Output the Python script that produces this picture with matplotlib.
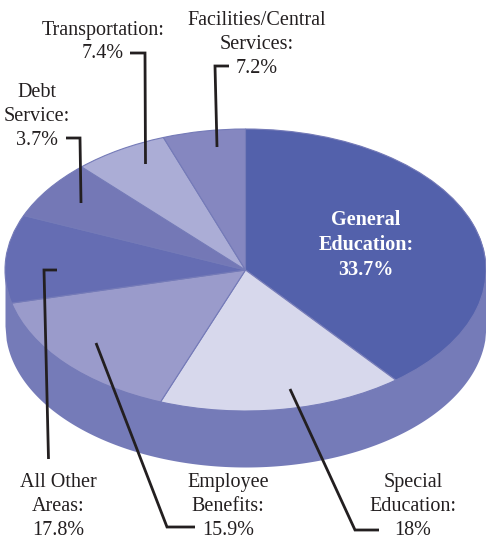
"""School budget pie, drawn as a tilted disc with a side wall."""
import matplotlib
matplotlib.use("Agg")
import matplotlib.pyplot as plt
import numpy as np

plt.rcParams["font.family"] = ["Liberation Serif", "DejaVu Serif"]

W, H = 486, 540

# slice sizes as drawn (percent of the circle), clockwise from 12 o'clock
categories = ["General Education", "Special Education", "Employee Benefits",
              "All Other Areas", "Debt Service", "Transportation",
              "Facilities/Central Services"]
drawn_share = [39.3, 16.5, 15.5, 10.1, 6.75, 6.4, 5.55]
slice_colors = ["#5361AB", "#D7D8EC", "#9A9BCB", "#656DB3",
                "#7478B6", "#ABADD6", "#8587C0"]

# printed labels
label_text = ["Facilities/Central\nServices:\n7.2%", "Transportation:\n7.4%",
              "Debt\nService:\n3.7%", "All Other\nAreas:\n17.8%",
              "Employee\nBenefits:\n15.9%", "Special\nEducation:\n18%"]
label_x = [257, 103, 37, 58, 228, 413]
label_y = [44.5, 42, 116.5, 506.5, 506.5, 506.5]

# leader lines, pixel coordinates from the top left
leaders = [
    ([229, 215, 217], [66, 66, 147]),
    ([130, 145, 145.5], [53, 53, 164]),
    ([66, 80, 81], [138, 138, 203]),
    ([57, 44, 48.5], [270, 270, 459]),
    ([96, 167, 195], [343, 527, 527]),
    ([290, 355, 379], [389, 530, 530]),
]

SIDE = "#757BB8"
INK = "#231F20"
CX, CY, RX, RY, DEPTH = 245.5, 270, 240.5, 141, 56

fig = plt.figure(figsize=(W / 100, H / 100), dpi=100)

# --- pie: the axes box is the bounding box of the ellipse ---
ax = fig.add_axes([(CX - RX) / W, 1 - (CY + RY) / H, 2 * RX / W, 2 * RY / H])
xs = np.linspace(-1, 1, 400)
ax.fill_between(xs, np.sqrt(1 - xs ** 2), -np.sqrt(1 - xs ** 2) - DEPTH / RY,
                color=SIDE, lw=0, clip_on=False, zorder=1)
wedges, _ = ax.pie(drawn_share, colors=slice_colors, startangle=90, counterclock=False,
                   radius=1, wedgeprops={"edgecolor": SIDE, "linewidth": 0.8, "zorder": 2})
for w in wedges:
    w.set_clip_on(False)
ax.set_aspect("auto")
ax.set_xlim(-1, 1)
ax.set_ylim(-1, 1)
ax.axis("off")

# --- labels and leaders, in pixel coordinates ---
over = fig.add_axes([0, 0, 1, 1])
over.set_xlim(0, W)
over.set_ylim(H, 0)
over.axis("off")

for lx, ly in leaders:
    over.plot(lx, ly, color=INK, lw=2.0, solid_joinstyle="miter", solid_capstyle="butt")

for txt, x, y in zip(label_text, label_x, label_y):
    over.text(x, y, txt, ha="center", va="center", fontsize=14.5, color=INK, linespacing=1.33)

over.text(366, 245, "General\nEducation:\n33.7%", ha="center", va="center",
          fontsize=14.5, fontweight="bold", color="white", linespacing=1.33)

fig.savefig("out.png", dpi=100)
plt.close(fig)
